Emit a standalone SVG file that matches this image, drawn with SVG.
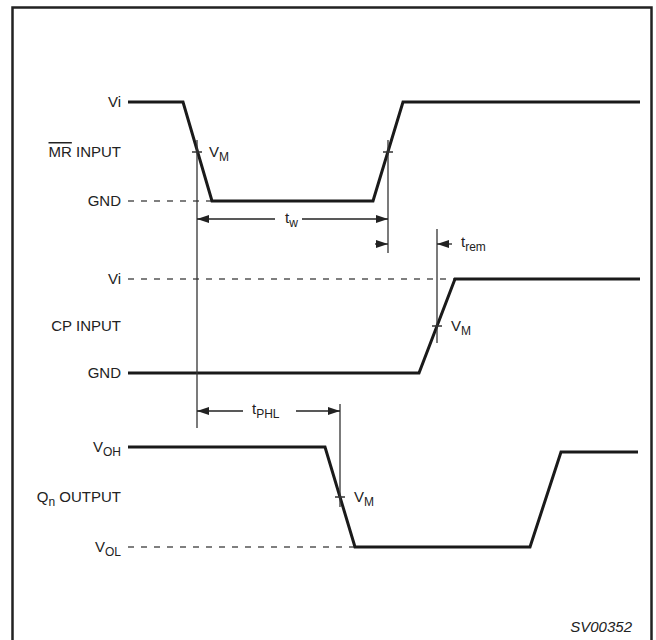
<svg xmlns="http://www.w3.org/2000/svg" width="656" height="640" viewBox="0 0 656 640">
<defs>
<style>
.lbl{font-family:"Liberation Sans",Arial,sans-serif;font-size:15px;fill:#222}
.sub{font-size:12px}
.wave{fill:none;stroke:#1a1a1a;stroke-width:3;stroke-linejoin:miter}
.dash{fill:none;stroke:#555;stroke-width:1.3;stroke-dasharray:6 7}
.thin{fill:none;stroke:#333;stroke-width:1.3}
.arr{fill:none;stroke:#222;stroke-width:1.3;marker-end:url(#ah)}
</style>
<marker id="ah" viewBox="0 0 12 8" refX="12" refY="4" markerWidth="12" markerHeight="8" markerUnits="userSpaceOnUse" orient="auto">
<path d="M0,0 L12,4 L0,8 z" fill="#222"/>
</marker>
</defs>
<rect width="656" height="640" fill="#fff"/>
<path d="M12.5,642 V7.5 H651.5 V642" fill="none" stroke="#222" stroke-width="2.5"/>

<g id="mr-input">
<text class="lbl" x="121" y="107" text-anchor="end">Vi</text>
<text class="lbl" x="121" y="157" text-anchor="end"><tspan text-decoration="overline">MR</tspan> INPUT</text>
<text class="lbl" x="121" y="206" text-anchor="end">GND</text>
<path class="dash" d="M128,201 H212"/>
<path class="wave" d="M128,102 H183 L212,201 H373 L403,102 H640"/>
</g>

<g id="cp-input">
<text class="lbl" x="121" y="284" text-anchor="end">Vi</text>
<text class="lbl" x="121" y="331" text-anchor="end">CP INPUT</text>
<text class="lbl" x="121" y="378" text-anchor="end">GND</text>
<path class="dash" d="M128,279 H455"/>
<path class="wave" d="M128,373 H419 L455,279 H640"/>
</g>

<g id="qn-output">
<text class="lbl" x="121" y="452" text-anchor="end">V<tspan class="sub" dy="4">OH</tspan></text>
<text class="lbl" x="121" y="502" text-anchor="end">Q<tspan class="sub" dy="4">n</tspan><tspan dy="-4"> OUTPUT</tspan></text>
<text class="lbl" x="121" y="552" text-anchor="end">V<tspan class="sub" dy="4">OL</tspan></text>
<path class="dash" d="M128,547 H355"/>
<path class="wave" d="M128,447 H325 L355,547 H530 L561,452 H638"/>
</g>

<g id="connectors">
<path class="thin" d="M197,140 V428"/>
<path class="thin" d="M388,140 V253"/>
<path class="thin" d="M437,229 V343"/>
<path class="thin" d="M340,404 V507"/>
<path class="thin" d="M192,152 H202 M383,152 H393 M432,326 H442 M335,497 H345"/>
<path class="arr" d="M275,219 H197"/>
<path class="arr" d="M302,219 H388"/>
<path class="arr" d="M375,244 H388"/>
<path class="arr" d="M452,244 H437"/>
<path class="arr" d="M243,411 H197"/>
<path class="arr" d="M296,411 H340"/>
</g>

<g id="labels">
<text class="lbl" x="209" y="157">V<tspan class="sub" dy="4">M</tspan></text>
<text class="lbl" x="285" y="223">t<tspan class="sub" dy="4">w</tspan></text>
<text class="lbl" x="461" y="247">t<tspan class="sub" dy="4">rem</tspan></text>
<text class="lbl" x="451" y="331">V<tspan class="sub" dy="4">M</tspan></text>
<text class="lbl" x="252" y="414">t<tspan class="sub" dy="4">PHL</tspan></text>
<text class="lbl" x="354" y="502">V<tspan class="sub" dy="4">M</tspan></text>
<text class="lbl" x="632" y="632" text-anchor="end" font-style="italic">SV00352</text>
</g>
</svg>
